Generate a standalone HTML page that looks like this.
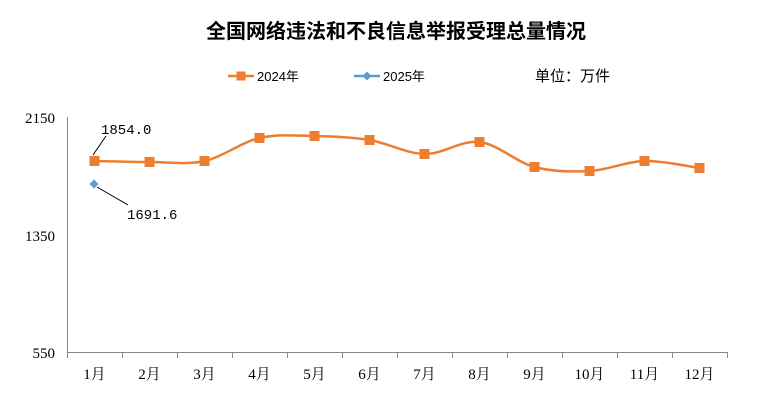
<!DOCTYPE html>
<html><head><meta charset="utf-8"><style>
body{margin:0;background:#fff;}
svg{display:block;}
</style></head><body>
<svg width="762" height="406" xmlns="http://www.w3.org/2000/svg">
<rect width="762" height="406" fill="#fff"/>
<text x="396" y="38" text-anchor="middle" font-family="Liberation Sans, 'Noto Sans CJK SC', sans-serif" font-size="20" font-weight="bold" fill="#000">全国网络违法和不良信息举报受理总量情况</text>
<g font-family="Liberation Sans, 'Noto Sans CJK SC', sans-serif" font-size="13" fill="#000">
<line x1="228" y1="76" x2="254" y2="76" stroke="#ED7D31" stroke-width="2.5"/>
<rect x="236.5" y="71.5" width="9" height="9" fill="#ED7D31"/>
<text x="257" y="81">2024年</text>
<line x1="354" y1="76" x2="380" y2="76" stroke="#5B9BD5" stroke-width="2.5"/>
<path d="M367 71.5 L371.5 76 L367 80.5 L362.5 76Z" fill="#5B9BD5"/>
<text x="383" y="81">2025年</text>
<text x="535" y="81" font-size="15">单位：万件</text>
</g>
<g stroke="#888" stroke-width="1">
<line x1="67.5" y1="117" x2="67.5" y2="358"/>
<line x1="67" y1="352.5" x2="727" y2="352.5"/>
<line x1="122.5" y1="352" x2="122.5" y2="358"/><line x1="177.5" y1="352" x2="177.5" y2="358"/>
<line x1="232.5" y1="352" x2="232.5" y2="358"/><line x1="287.5" y1="352" x2="287.5" y2="358"/>
<line x1="342.5" y1="352" x2="342.5" y2="358"/><line x1="397.5" y1="352" x2="397.5" y2="358"/>
<line x1="452.5" y1="352" x2="452.5" y2="358"/><line x1="507.5" y1="352" x2="507.5" y2="358"/>
<line x1="562.5" y1="352" x2="562.5" y2="358"/><line x1="617.5" y1="352" x2="617.5" y2="358"/>
<line x1="672.5" y1="352" x2="672.5" y2="358"/><line x1="727.5" y1="352" x2="727.5" y2="358"/>
</g>
<g font-family="Liberation Serif, serif" font-size="15" fill="#000" text-anchor="end">
<text x="55" y="123">2150</text>
<text x="55" y="241">1350</text>
<text x="55" y="358">550</text>
</g>
<g font-family="Liberation Serif, 'Noto Serif CJK SC', 'Noto Sans CJK SC', serif" font-size="15" fill="#000" text-anchor="middle">
<text x="94.5" y="379">1月</text><text x="149.5" y="379">2月</text><text x="204.5" y="379">3月</text>
<text x="259.5" y="379">4月</text><text x="314.5" y="379">5月</text><text x="369.5" y="379">6月</text>
<text x="424.5" y="379">7月</text><text x="479.5" y="379">8月</text><text x="534.5" y="379">9月</text>
<text x="589.5" y="379">10月</text><text x="644.5" y="379">11月</text><text x="699.5" y="379">12月</text>
</g>
<path fill="none" stroke="#ED7D31" stroke-width="2.5" d="M94.5 161 C103.67 161.17 131.17 162 149.5 162 C167.83 162 186.17 165 204.5 161 C222.83 157 241.17 142.17 259.5 138 C277.83 133.83 296.17 135.67 314.5 136 C332.83 136.33 351.17 137 369.5 140 C387.83 143 406.17 153.67 424.5 154 C442.83 154.33 461.17 139.83 479.5 142 C497.83 144.17 516.17 162.17 534.5 167 C552.83 171.83 571.17 172 589.5 171 C607.83 170 626.17 161.5 644.5 161 C662.83 160.5 690.33 166.83 699.5 168"/>
<g fill="#ED7D31">
<rect x="89.5" y="156" width="10" height="10"/><rect x="144.5" y="157" width="10" height="10"/>
<rect x="199.5" y="156" width="10" height="10"/><rect x="254.5" y="133" width="10" height="10"/>
<rect x="309.5" y="131" width="10" height="10"/><rect x="364.5" y="135" width="10" height="10"/>
<rect x="419.5" y="149" width="10" height="10"/><rect x="474.5" y="137" width="10" height="10"/>
<rect x="529.5" y="162" width="10" height="10"/><rect x="584.5" y="166" width="10" height="10"/>
<rect x="639.5" y="156" width="10" height="10"/><rect x="694.5" y="163" width="10" height="10"/>
</g>
<path d="M94 179.5 L98.5 184 L94 188.5 L89.5 184Z" fill="#5B9BD5"/>
<g stroke="#000" stroke-width="1">
<line x1="93" y1="155" x2="106" y2="136"/>
<line x1="97" y1="187" x2="128" y2="205"/>
</g>
<g font-family="Liberation Mono, monospace" font-size="14" fill="#000">
<text x="101" y="134">1854.0</text>
<text x="127" y="219">1691.6</text>
</g>
</svg>
</body></html>
